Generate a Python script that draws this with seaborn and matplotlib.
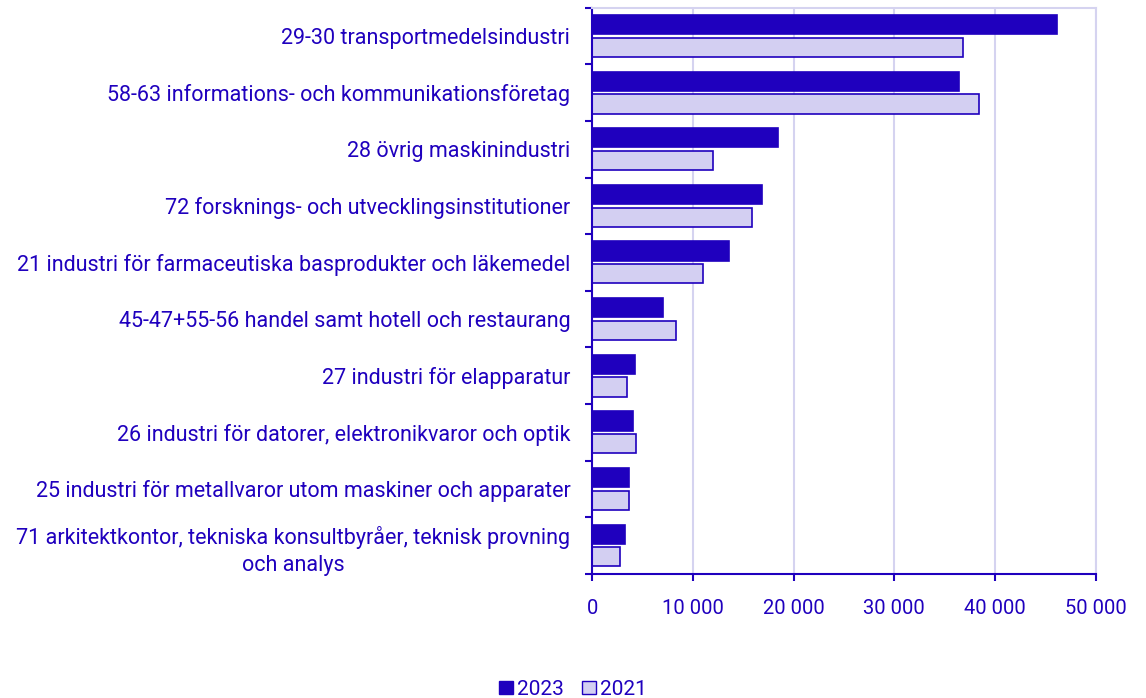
import seaborn as sns
import pandas as pd
import numpy as np
import matplotlib.pyplot as plt
from matplotlib.patches import Patch

# %% data
branscher = [
    "29-30 transportmedelsindustri",
    "58-63 informations- och kommunikationsföretag",
    "28 övrig maskinindustri",
    "72 forsknings- och utvecklingsinstitutioner",
    "21 industri för farmaceutiska basprodukter och läkemedel",
    "45-47+55-56 handel samt hotell och restaurang",
    "27 industri för elapparatur",
    "26 industri för datorer, elektronikvaror och optik",
    "25 industri för metallvaror utom maskiner och apparater",
    "71 arkitektkontor, tekniska konsultbyråer, teknisk provning\noch analys",
]
v2023 = [46200, 36400, 18400, 16800, 13600, 7000, 4200, 4050, 3650, 3200]
v2021 = [36800, 38400, 12000, 15900, 11000, 8350, 3400, 4350, 3600, 2700]
years = ["2023", "2021"]

df = pd.DataFrame({
    "bransch": branscher * 2,
    "varde": v2023 + v2021,
    "ar": [years[0]] * len(branscher) + [years[1]] * len(branscher),
})

# %% style
dark = "#1f00be"
light = "#d3cff2"
grid = "#d5d3f0"

sns.set_style("white")
plt.rcParams["font.family"] = ["Roboto", "DejaVu Sans"]
plt.rcParams["text.color"] = dark

fig, ax = plt.subplots(figsize=(11.46, 6.98), dpi=100)
fig.subplots_adjust(left=0.517, right=0.956, top=0.989, bottom=0.178)

sns.barplot(
    data=df, y="bransch", x="varde", hue="ar", orient="h",
    palette={"2023": dark, "2021": light}, saturation=1, width=0.8, gap=0.15,
    edgecolor=dark, linewidth=1.2, legend=False, ax=ax,
)

# %% axes
ax.set_xlim(0, 50000)
ax.set_ylim(len(branscher) - 0.5, -0.5)
ticks = np.arange(0, 50001, 10000)
ax.set_xticks(ticks)
ax.set_xticklabels(["0" if t == 0 else f"{t // 1000} 000" for t in ticks])
ax.xaxis.grid(True, color=grid, linewidth=1.5)
ax.set_axisbelow(True)
ax.set_xlabel("")
ax.set_ylabel("")

ax.set_yticks(np.arange(-0.5, len(branscher), 1), minor=True)
ax.tick_params(axis="y", which="major", left=True, length=0, pad=16, labelsize=15.5, labelcolor=dark)
ax.tick_params(axis="y", which="minor", left=True, length=5, width=1.5, color=dark)
ax.tick_params(axis="x", bottom=True, length=5, width=1.5, color=dark, labelsize=14.5,
               labelcolor=dark, pad=13)
for lbl in ax.get_yticklabels():
    lbl.set_multialignment("center")
    lbl.set_linespacing(1.35)

for side in ["left", "bottom"]:
    ax.spines[side].set_color(dark)
    ax.spines[side].set_linewidth(1.5)
for side in ["top", "right"]:
    ax.spines[side].set_color(grid)
    ax.spines[side].set_linewidth(1.5)

handles = [Patch(facecolor=dark, edgecolor=dark, label="2023"),
           Patch(facecolor=light, edgecolor=dark, label="2021")]
fig.legend(handles=handles, loc="lower center", bbox_to_anchor=(0.5, -0.028), ncol=2,
           frameon=False, fontsize=15, handlelength=0.65, handleheight=0.65,
           handletextpad=0.2, columnspacing=0.9, labelcolor=dark)

fig.savefig("out.png", dpi=100)
